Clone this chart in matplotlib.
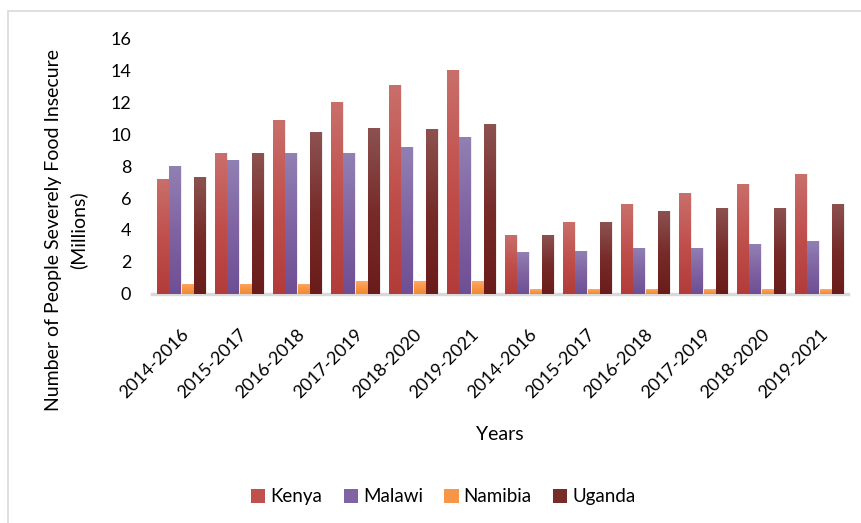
import numpy as np
import matplotlib
matplotlib.use("Agg")
import matplotlib.pyplot as plt
from matplotlib.colors import LinearSegmentedColormap
from matplotlib.patches import Rectangle

plt.rcParams['font.family'] = ['Lato', 'DejaVu Sans']

periods = ['2014-2016', '2015-2017', '2016-2018', '2017-2019', '2018-2020', '2019-2021',
           '2014-2016', '2015-2017', '2016-2018', '2017-2019', '2018-2020', '2019-2021']
kenya = [7.2, 8.8, 10.9, 12.0, 13.1, 14.0, 3.7, 4.5, 5.6, 6.3, 6.9, 7.5]
malawi = [8.0, 8.4, 8.8, 8.8, 9.2, 9.8, 2.6, 2.7, 2.9, 2.9, 3.1, 3.3]
namibia = [0.65, 0.65, 0.65, 0.8, 0.8, 0.8, 0.3, 0.3, 0.3, 0.3, 0.3, 0.3]
uganda = [7.3, 8.8, 10.1, 10.4, 10.3, 10.6, 3.7, 4.5, 5.2, 5.4, 5.4, 5.6]

series = [('Kenya', kenya), ('Malawi', malawi), ('Namibia', namibia), ('Uganda', uganda)]
# top, middle, bottom colours of the gradient fill
grads = [('#c96f6b', '#c0504d', '#b23c39'),
         ('#9180b3', '#8064a2', '#6e4f94'),
         ('#ffa864', '#f79646', '#f28a30'),
         ('#8c5250', '#772c2a', '#6a1c1a')]

fig = plt.figure(figsize=(8.61, 5.23), dpi=100)
ax = fig.add_axes([0.1765, 0.438, 0.8085, 0.489])

# chart border
fig.patches.append(Rectangle((8 / 861, -0.05), 1.1, 1 - 11 / 523 + 0.05,
                             transform=fig.transFigure, fill=False,
                             edgecolor='#d9d9d9', linewidth=1.2, zorder=0))

x = np.arange(len(periods))
w = 0.19
step = 0.215
grad = np.linspace(0, 1, 100).reshape(-1, 1)

for i, (name, vals) in enumerate(series):
    top, mid, bot = grads[i]
    cmap = LinearSegmentedColormap.from_list(name, [bot, mid, top])
    pos = x + (i - 1.5) * step
    # soft shadow
    ax.bar(pos + 0.02, vals, w + 0.03, color='#000000', alpha=0.08, zorder=1)
    bars = ax.bar(pos, vals, w, color=mid, label=name, zorder=2)
    for b in bars:
        bx, by = b.get_x(), b.get_y()
        bw, bh = b.get_width(), b.get_height()
        im = ax.imshow(grad, extent=[bx, bx + bw, by, by + bh], origin='lower',
                       cmap=cmap, aspect='auto', zorder=3)
        im.set_clip_path(b)

ax.set_xlim(-0.5, len(periods) - 0.5)
ax.set_ylim(0, 16)
ax.set_yticks(range(0, 17, 2))
ax.set_xticks(x)
ax.set_xticklabels(periods, rotation=45, ha='right', rotation_mode='anchor')
ax.tick_params(axis='both', length=0, labelsize=13, colors='black')
ax.tick_params(axis='y', pad=15)
ax.tick_params(axis='x', pad=23)

for s in ['top', 'right', 'left']:
    ax.spines[s].set_visible(False)
ax.spines['bottom'].set_color('#d9d9d9')
ax.spines['bottom'].set_linewidth(2.5)

fig.text(500 / 861, 1 - 435 / 523, 'Years', fontsize=14, ha='center', va='center')
fig.text(66 / 861, 1 - 230 / 523, 'Number of People Severely Food Insecure\n(Millions)',
         fontsize=14, rotation=90, ha='center', va='center', multialignment='center',
         linespacing=1.45)

handles = [Rectangle((0, 0), 1, 1, facecolor=g[1]) for g in grads]
fig.legend(handles, [s[0] for s in series], loc='center', bbox_to_anchor=(0.515, 0.050),
           ncol=4, frameon=False, fontsize=13.5, handlelength=0.75, handleheight=0.75,
           handletextpad=0.27, columnspacing=1.15)

fig.savefig('out.png', dpi=100)
